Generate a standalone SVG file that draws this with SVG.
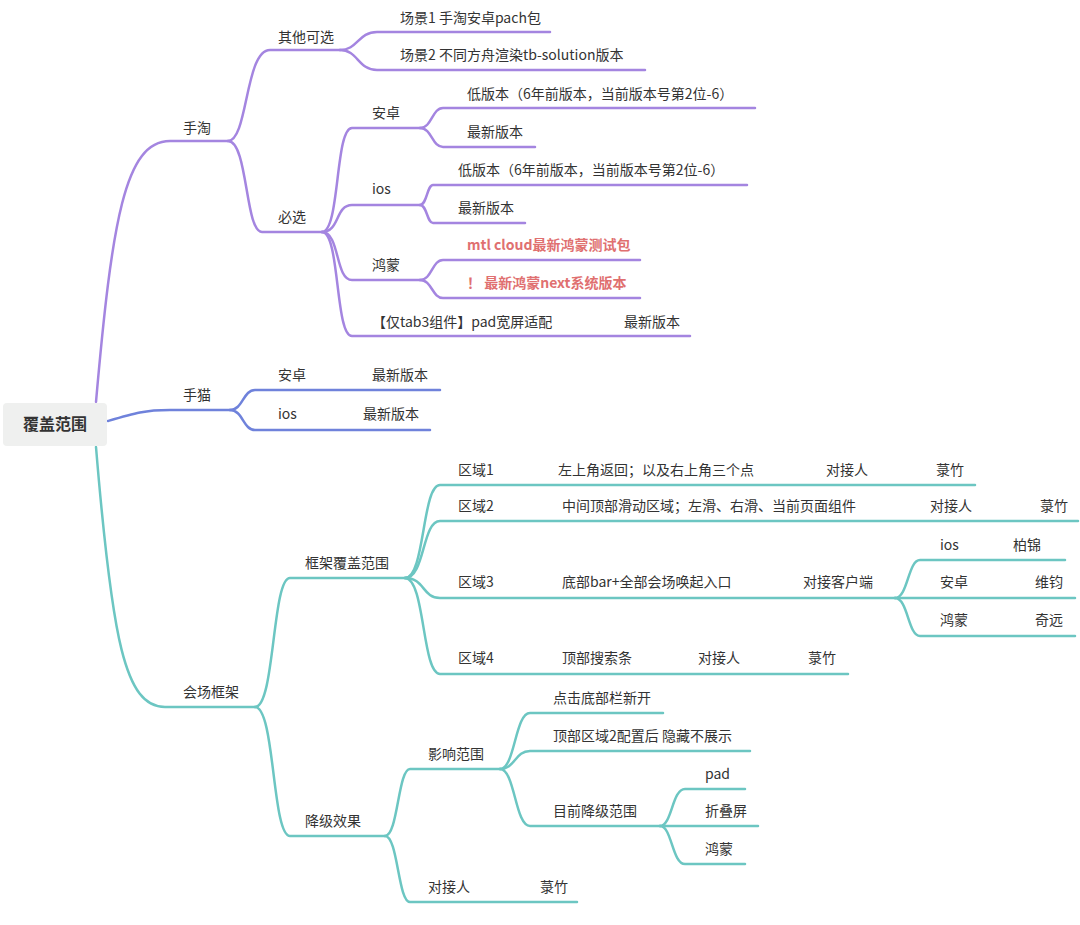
<svg xmlns="http://www.w3.org/2000/svg" width="1080" height="925" viewBox="0 0 1080 925">
<style>
text{font-family:"Noto Sans CJK SC","Liberation Sans",sans-serif;font-size:14px;fill:#333}
.r{fill:#e07070;font-weight:bold}
path{fill:none;stroke-width:2.5;stroke-linecap:round}
.p{stroke:#a485e0}.b{stroke:#6f82db}.t{stroke:#6cc6c2}
</style>
<rect width="1080" height="925" fill="#fff"/>
<g id="connectors">
<path class="p" d="M96,402 C112,220 125,141 170,141 L228,141"/>
<path class="p" d="M228,141 C248,141 245,50 270,50 L340,50"/>
<path class="p" d="M340,50 C358,50 358,32 377,32 L550,32"/>
<path class="p" d="M340,50 C358,50 358,70 377,70 L645,70"/>
<path class="p" d="M228,141 C248,141 245,232 262,232 L322,232"/>
<path class="p" d="M322,232 C340,232 335,128 352,128 L420,128"/>
<path class="p" d="M420,128 C432,128 432,108 443,108 L755,108"/>
<path class="p" d="M420,128 C432,128 432,147 443,147 L535,147"/>
<path class="p" d="M322,232 C340,232 335,205 352,205 L420,205"/>
<path class="p" d="M420,205 C427,205 427,185 433,185 L747,185"/>
<path class="p" d="M420,205 C427,205 427,223 433,223 L525,223"/>
<path class="p" d="M322,232 C340,232 335,280 352,280 L420,280"/>
<path class="p" d="M420,280 C432,280 432,260 443,260 L640,260"/>
<path class="p" d="M420,280 C432,280 432,298 443,298 L640,298"/>
<path class="p" d="M322,232 C340,232 335,336 352,336 L690,336"/>
<path class="b" d="M108,421 C135,413 145,410 170,410 L230,410"/>
<path class="b" d="M230,410 C243,410 243,390 255,390 L440,390"/>
<path class="b" d="M230,410 C243,410 243,430 255,430 L430,430"/>
<path class="t" d="M96,447 C112,640 125,707 165,707 L255,707"/>
<path class="t" d="M255,707 C275,707 272,578 290,578 L405,578"/>
<path class="t" d="M405,578 C425,578 422,485 440,485 L975,485"/>
<path class="t" d="M405,578 C425,578 422,521 440,521 L1078,521"/>
<path class="t" d="M405,578 C425,578 422,598 440,598 L895,598"/>
<path class="t" d="M405,578 C425,578 422,674 440,674 L848,674"/>
<path class="t" d="M895,598 C908,598 908,560 920,560 L1065,560"/>
<path class="t" d="M895,598 L1075,598"/>
<path class="t" d="M895,598 C908,598 908,636 920,636 L1075,636"/>
<path class="t" d="M255,707 C275,707 272,836 290,836 L385,836"/>
<path class="t" d="M385,836 C398,836 398,769 410,769 L500,769"/>
<path class="t" d="M500,769 C515,769 515,713 530,713 L663,713"/>
<path class="t" d="M500,769 C515,769 515,751 530,751 L750,751"/>
<path class="t" d="M500,769 C515,769 515,826 530,826 L660,826"/>
<path class="t" d="M660,826 C672,826 672,789 685,789 L745,789"/>
<path class="t" d="M660,826 L758,826"/>
<path class="t" d="M660,826 C672,826 672,864 685,864 L745,864"/>
<path class="t" d="M385,836 C398,836 398,902 410,902 L577,902"/>
</g>
<g id="root"><rect x="3" y="403" width="104" height="43" rx="4" fill="#eff0ef"/><text x="55" y="430" text-anchor="middle" style="font-size:16px;font-weight:bold">覆盖范围</text></g>
<g id="shoutao"><text x="183" y="133">手淘</text></g>
<g id="qita"><text x="278" y="42">其他可选</text></g>
<g id="cj1"><text x="400" y="23">场景1 手淘安卓pach包</text></g>
<g id="cj2"><text x="400" y="60">场景2 不同方舟渲染tb-solution版本</text></g>
<g id="bixuan"><text x="278" y="222">必选</text></g>
<g id="az"><text x="372" y="118">安卓</text></g>
<g id="az1"><text x="467" y="99">低版本（6年前版本，当前版本号第2位-6）</text></g>
<g id="az2"><text x="467" y="137">最新版本</text></g>
<g id="ios"><text x="372" y="194">ios</text></g>
<g id="ios1"><text x="458" y="175">低版本（6年前版本，当前版本号第2位-6）</text></g>
<g id="ios2"><text x="458" y="213">最新版本</text></g>
<g id="hm"><text x="372" y="270">鸿蒙</text></g>
<g id="hm1"><text class="r" x="467" y="250">mtl cloud最新鸿蒙测试包</text></g>
<g id="hm2"><text class="r" x="467" y="288">！ 最新鸿蒙next系统版本</text></g>
<g id="pad"><text x="372" y="327">【仅tab3组件】pad宽屏适配</text><text x="624" y="327">最新版本</text></g>
<g id="shoumao"><text x="183" y="400">手猫</text></g>
<g id="smaz"><text x="278" y="380">安卓</text><text x="372" y="380">最新版本</text></g>
<g id="smios"><text x="278" y="419">ios</text><text x="363" y="419">最新版本</text></g>
<g id="hckj"><text x="183" y="697">会场框架</text></g>
<g id="kjfg"><text x="305" y="568">框架覆盖范围</text></g>
<g id="qy1"><text x="458" y="475">区域1</text><text x="558" y="475">左上角返回；以及右上角三个点</text><text x="826" y="475">对接人</text><text x="936" y="475">菉竹</text></g>
<g id="qy2"><text x="458" y="511">区域2</text><text x="562" y="511">中间顶部滑动区域；左滑、右滑、当前页面组件</text><text x="930" y="511">对接人</text><text x="1040" y="511">菉竹</text></g>
<g id="qy3"><text x="458" y="587">区域3</text><text x="562" y="587">底部bar+全部会场唤起入口</text><text x="803" y="587">对接客户端</text></g>
<g id="q3ios"><text x="940" y="550">ios</text><text x="1013" y="550">柏锦</text></g>
<g id="q3az"><text x="940" y="587">安卓</text><text x="1035" y="587">维钧</text></g>
<g id="q3hm"><text x="940" y="625">鸿蒙</text><text x="1035" y="625">奇远</text></g>
<g id="qy4"><text x="458" y="663">区域4</text><text x="562" y="663">顶部搜索条</text><text x="698" y="663">对接人</text><text x="808" y="663">菉竹</text></g>
<g id="jjxg"><text x="305" y="826">降级效果</text></g>
<g id="yxfw"><text x="428" y="759">影响范围</text></g>
<g id="y1"><text x="553" y="703">点击底部栏新开</text></g>
<g id="y2"><text x="553" y="741">顶部区域2配置后 隐藏不展示</text></g>
<g id="y3"><text x="553" y="816">目前降级范围</text></g>
<g id="d1"><text x="705" y="779">pad</text></g>
<g id="d2"><text x="705" y="816">折叠屏</text></g>
<g id="d3"><text x="705" y="854">鸿蒙</text></g>
<g id="djr"><text x="428" y="892">对接人</text><text x="540" y="892">菉竹</text></g>
</svg>
